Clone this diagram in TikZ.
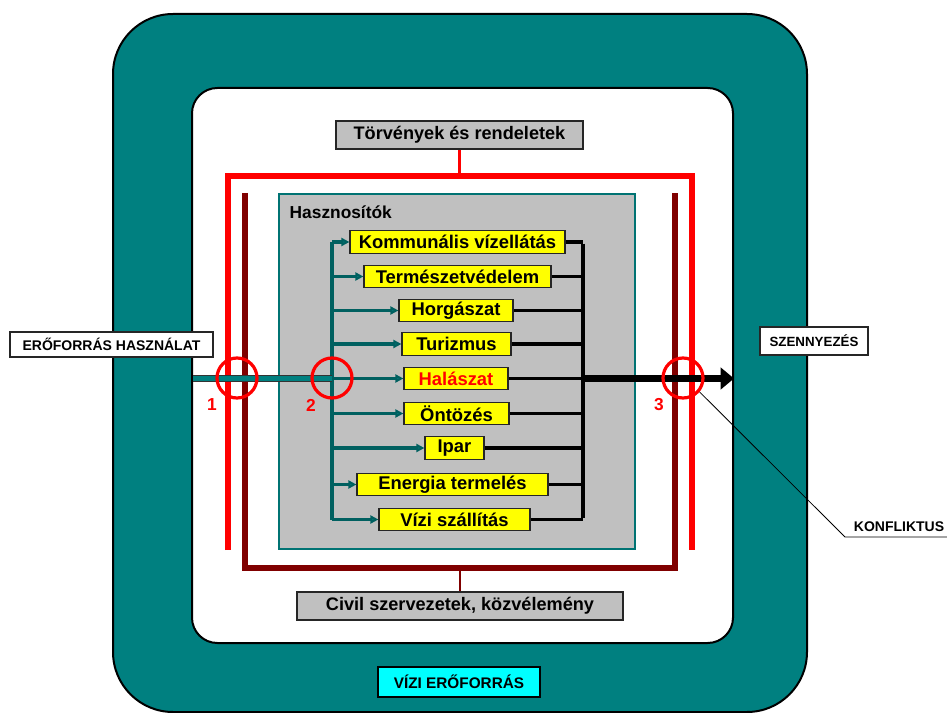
\documentclass[tikz,border=0pt]{standalone}
\usepackage{fontspec}
\setmainfont{Liberation Sans}
\usetikzlibrary{arrows.meta}
\definecolor{tealc}{HTML}{008080}
\definecolor{grayc}{HTML}{C0C0C0}
\definecolor{yel}{HTML}{FFFF00}
\definecolor{dred}{HTML}{800000}
\definecolor{cyanc}{HTML}{00FFFF}
\tikzset{
  ybox/.style={draw=black!85, line width=0.9pt, fill=yel, inner sep=0pt,
    minimum height=17pt, minimum width=#1*0.75pt,
    font=\fontsize{13.8pt}{14pt}\selectfont\bfseries},
  gbox/.style={draw=black!85, line width=1pt, fill=grayc, inner sep=0pt,
    minimum height=21pt, minimum width=#1*0.75pt,
    font=\fontsize{13.6pt}{15pt}\selectfont\bfseries},
  wbox/.style={draw=black!85, line width=1.2pt, fill=white, inner sep=0pt,
    minimum height=#1*0.75pt, font=\fontsize{10.5pt}{11pt}\selectfont\bfseries},
  ring/.style={circle, draw=red, line width=2.4pt, minimum size=30pt, inner sep=0pt},
  num/.style={text=red, font=\fontsize{13pt}{13pt}\selectfont\bfseries},
  branch/.style={draw=tealc!75!black, line width=2.4pt,
    -{Triangle[length=6pt,width=6pt,fill=tealc]}},
  trunkline/.style={draw=tealc!75!black, line width=2.4pt},
  collect/.style={draw=black, line width=2.5pt},
}
\begin{document}
\begin{tikzpicture}[x=0.75pt,y=-0.75pt]
\useasboundingbox (0,0) rectangle (947,713);
\fill[white] (0,0) rectangle (947,713);
% outer and inner frames
\draw[fill=tealc, line width=1.5pt, rounded corners=45pt] (113,14) rectangle (807,712);
\draw[fill=white, line width=1.5pt, rounded corners=19pt] (192,88) rectangle (733,643);
% red and dark red U-frames
\draw[red, line width=3.8pt] (228,550) -- (228,176) -- (692,176) -- (692,550);
\draw[dred, line width=3.8pt] (245,193) -- (245,568) -- (675,568) -- (675,193);
\coordinate (rtop) at (453,176);
\coordinate (drbot) at (454,568);
% text boxes for frames
\node[gbox=247] (torv) at (459.5,135) {Törvények és rendeletek};
\node[gbox=326] (civil) at (460,606) {Civil szervezetek, közvélemény};
\draw[red, line width=1.8pt] (torv.south) -- (torv.south |- rtop);
\draw[dred, line width=1.8pt] (civil.north) -- (civil.north |- drbot);
% gray users box
\draw[fill=grayc, draw=tealc!90!black, line width=1.5pt] (279,194) rectangle (635,549);
\node[anchor=west, font=\fontsize{13pt}{13pt}\selectfont\bfseries] (hasz) at (285,212) {Hasznosítók};
% yellow boxes
\node[ybox=215] (b1) at (457.5,242) {Kommunális vízellátás};
\node[ybox=187] (b2) at (457.5,276.5) {Természetvédelem};
\node[ybox=114] (b3) at (456,310.5) {Horgászat};
\node[ybox=109] (b4) at (456.5,344) {Turizmus};
\node[ybox=104, text=red] (b5) at (456,378.5) {Halászat};
\node[ybox=105] (b6) at (456.5,413.5) {Öntözés};
\node[ybox=59] (b7) at (454.5,448) {Ipar};
\node[ybox=191] (b8) at (452.5,484.5) {Energia termelés};
\node[ybox=151] (b9) at (454.5,519.5) {Vízi szállítás};
% trunk and collector
\coordinate (ttop) at (332,242);
\coordinate (tbot) at (332,519.5);
\coordinate (ctop) at (583,242);
\coordinate (cbot) at (583,519.5);
\coordinate (inL) at (193,378.5);
\coordinate (outT) at (734,378.5);
\draw[trunkline] (ttop) -- (tbot);
\foreach \b in {b1,b2,b3,b4,b5,b6,b7,b8,b9}{
  \draw[branch] (\b.west -| ttop) -- (\b.west);
  \draw[collect] (\b.east) -- (\b.east -| ctop);
}
\draw[collect] ([yshift=-1.2pt]ctop) -- ([yshift=1.2pt]cbot);
% input line
\draw[black!80, line width=5.2pt] (inL) -- (inL -| ttop);
\draw[tealc, line width=3.2pt] (inL) -- (inL -| ttop);
% output arrow
\draw[black, line width=5.2pt, -{Triangle[length=10pt,width=16pt]}] (b5.east -| ctop) -- (outT);
% rings and numbers
\node[ring] (c1) at (237,378) {};
\node[ring] (c2) at (332,378) {};
\node[ring] (c3) at (683,378) {};
\node[num] (n1) at (212,405) {1};
\node[num] (n2) at (311,405) {2};
\node[num] (n3) at (659,405) {3};
% outside labels
\node[wbox=25, minimum width=203*0.75pt] (use) at (111.5,344.5) {ERŐFORRÁS HASZNÁLAT};
\node[wbox=28, minimum width=108*0.75pt, font=\fontsize{10pt}{10pt}\selectfont\bfseries] (poll) at (814,341) {SZENNYEZÉS};
\node[draw=black, line width=1.5pt, fill=cyanc, inner sep=0pt, minimum width=162*0.75pt,
  minimum height=30*0.75pt, font=\fontsize{11.5pt}{12pt}\selectfont\bfseries] (viz) at (459,682) {VÍZI ERŐFORRÁS};
\node[font=\fontsize{10.5pt}{11pt}\selectfont\bfseries] (konf) at (899,527) {KONFLIKTUS};
\coordinate (kl) at (845,537);
\coordinate (kr) at (947,537);
\draw[black, line width=0.6pt] (c3.-40) -- (kl) -- (kr);
\end{tikzpicture}
\end{document}
